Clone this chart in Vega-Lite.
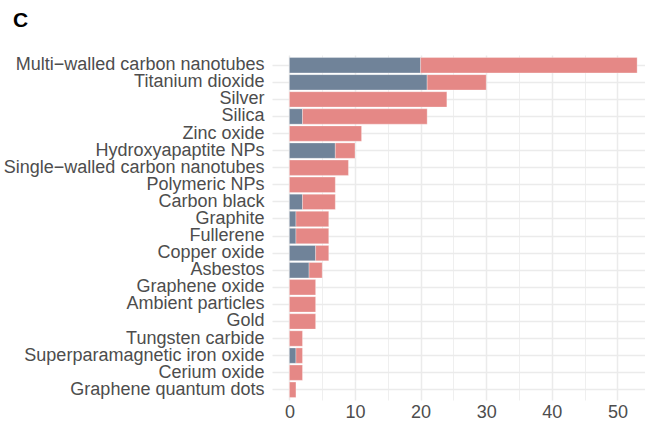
{
  "$schema": "https://vega.github.io/schema/vega-lite/v6.json",
  "autosize": "none",
  "width": 373,
  "height": 345,
  "padding": {"left": 272, "top": 55, "right": 0, "bottom": 26},
  "background": "white",
  "title": {
    "text": "C",
    "anchor": "start",
    "frame": "group",
    "dx": -259,
    "offset": 24,
    "fontSize": 21,
    "fontWeight": "bold",
    "font": "Liberation Sans",
    "color": "black"
  },
  "data": {
    "values": [
      {"material": "Multi−walled carbon nanotubes", "group": "A", "count": 20},
      {"material": "Multi−walled carbon nanotubes", "group": "B", "count": 33},
      {"material": "Titanium dioxide", "group": "A", "count": 21},
      {"material": "Titanium dioxide", "group": "B", "count": 9},
      {"material": "Silver", "group": "A", "count": 0},
      {"material": "Silver", "group": "B", "count": 24},
      {"material": "Silica", "group": "A", "count": 2},
      {"material": "Silica", "group": "B", "count": 19},
      {"material": "Zinc oxide", "group": "A", "count": 0},
      {"material": "Zinc oxide", "group": "B", "count": 11},
      {"material": "Hydroxyapaptite NPs", "group": "A", "count": 7},
      {"material": "Hydroxyapaptite NPs", "group": "B", "count": 3},
      {"material": "Single−walled carbon nanotubes", "group": "A", "count": 0},
      {"material": "Single−walled carbon nanotubes", "group": "B", "count": 9},
      {"material": "Polymeric NPs", "group": "A", "count": 0},
      {"material": "Polymeric NPs", "group": "B", "count": 7},
      {"material": "Carbon black", "group": "A", "count": 2},
      {"material": "Carbon black", "group": "B", "count": 5},
      {"material": "Graphite", "group": "A", "count": 1},
      {"material": "Graphite", "group": "B", "count": 5},
      {"material": "Fullerene", "group": "A", "count": 1},
      {"material": "Fullerene", "group": "B", "count": 5},
      {"material": "Copper oxide", "group": "A", "count": 4},
      {"material": "Copper oxide", "group": "B", "count": 2},
      {"material": "Asbestos", "group": "A", "count": 3},
      {"material": "Asbestos", "group": "B", "count": 2},
      {"material": "Graphene oxide", "group": "A", "count": 0},
      {"material": "Graphene oxide", "group": "B", "count": 4},
      {"material": "Ambient particles", "group": "A", "count": 0},
      {"material": "Ambient particles", "group": "B", "count": 4},
      {"material": "Gold", "group": "A", "count": 0},
      {"material": "Gold", "group": "B", "count": 4},
      {"material": "Tungsten carbide", "group": "A", "count": 0},
      {"material": "Tungsten carbide", "group": "B", "count": 2},
      {"material": "Superparamagnetic iron oxide", "group": "A", "count": 1},
      {"material": "Superparamagnetic iron oxide", "group": "B", "count": 1},
      {"material": "Cerium oxide", "group": "A", "count": 0},
      {"material": "Cerium oxide", "group": "B", "count": 2},
      {"material": "Graphene quantum dots", "group": "A", "count": 0},
      {"material": "Graphene quantum dots", "group": "B", "count": 1}
    ]
  },
  "mark": {"type": "bar", "stroke": "white", "strokeWidth": 0.6, "strokeOpacity": 0.5},
  "encoding": {
    "y": {
      "field": "material",
      "type": "nominal",
      "sort": null,
      "scale": {"paddingInner": 0.1, "paddingOuter": 0.15},
      "axis": {
        "title": null,
        "domain": false,
        "ticks": false,
        "grid": true,
        "gridColor": "#EBEBEB",
        "gridWidth": 1.5,
        "labelFont": "Liberation Sans",
        "labelFontSize": 18,
        "labelColor": "#4D4D4D",
        "labelPadding": 8,
        "labelLimit": 400,
        "labelOverlap": false
      }
    },
    "x": {
      "field": "count",
      "type": "quantitative",
      "stack": "zero",
      "scale": {"domain": [-2.65, 54.2], "nice": false, "zero": false},
      "axis": {
        "title": null,
        "domain": false,
        "ticks": false,
        "values": [0, 5, 10, 15, 20, 25, 30, 35, 40, 45, 50],
        "labelExpr": "datum.value % 10 === 0 ? datum.label : ''",
        "grid": true,
        "gridColor": "#EBEBEB",
        "gridWidth": {"condition": {"test": "datum.value % 10 === 0", "value": 1.5}, "value": 0.8},
        "labelFont": "Liberation Sans",
        "labelFontSize": 18,
        "labelColor": "#4D4D4D",
        "labelPadding": 3,
        "labelFlush": false
      }
    },
    "color": {
      "field": "group",
      "type": "nominal",
      "scale": {"domain": ["A", "B"], "range": ["#708399", "#E58886"]},
      "legend": null
    },
    "order": {"field": "group", "type": "nominal", "sort": "ascending"}
  },
  "config": {"view": {"stroke": null}}
}
